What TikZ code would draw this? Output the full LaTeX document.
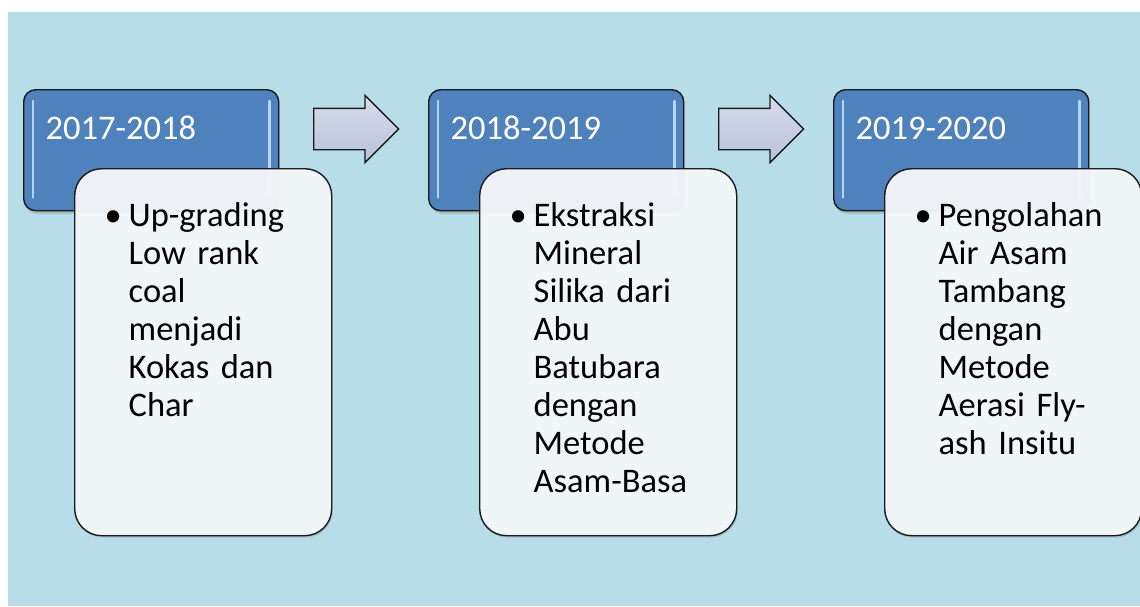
\documentclass[tikz,border=0pt]{standalone}
\usepackage{fontspec}
\setmainfont{Carlito}
\usetikzlibrary{shapes.arrows,shadows}

\definecolor{bgblue}{HTML}{B7DDE8}
\definecolor{yearblue}{HTML}{4F81BD}
\definecolor{glint}{HTML}{B4D6F6}
\definecolor{cardwhite}{HTML}{F5F8FB}
\definecolor{arrowgray}{HTML}{B8C1DB}
\definecolor{edge}{HTML}{1A1A1A}

\newcommand{\pt}{\makebox[24pt][l]{\textbullet}}

\begin{document}
\begin{tikzpicture}[x=1pt,y=-1pt,
    yearbox/.style={draw=edge, line width=1.4pt, fill=yearblue, rounded corners=12pt,
        anchor=north west, inner ysep=0pt, inner xsep=22pt, text width=211pt,
        align=left, text height=50pt, text depth=71pt, text=white,
        font=\fontsize{34.5}{38}\selectfont,
        drop shadow={opacity=0.35, shadow xshift=1pt, shadow yshift=-3pt}},
    card/.style={draw=edge, line width=1.4pt, fill=cardwhite, fill opacity=0.95,
        text opacity=1, rounded corners=27pt,
        anchor=north west, inner ysep=0pt, inner xsep=30pt, text width=197pt,
        align=left, text height=58pt, text depth=309pt,
        font=\fontsize{34.5}{38}\selectfont,
        drop shadow={opacity=0.3, shadow xshift=1pt, shadow yshift=-2pt}},
    stage/.style={single arrow, draw=edge, line width=1.4pt,
        top color=arrowgray!55!white, bottom color=arrowgray,
        minimum height=85pt, inner xsep=0pt, inner ysep=20pt,
        single arrow head extend=13pt, anchor=west},
    gloss/.style={glint, line width=2.5pt, line cap=round}]

  % background
  \useasboundingbox (0,0) rectangle (1140,606);
  \fill[bgblue] (8,12) rectangle (1140,606);

  % years
  \node[yearbox] (y1) at (23,89) {2017-2018};
  \node[yearbox] (y2) at (428,89) {2018-2019};
  \node[yearbox] (y3) at (833,89) {2019-2020};

  \foreach \n in {1,2,3} {
    \draw[gloss] ([xshift=10pt,yshift=-12pt]y\n.north west) -- ([xshift=10pt,yshift=14pt]y\n.south west);
    \draw[gloss] ([xshift=-10pt,yshift=-12pt]y\n.north east) -- ([xshift=-10pt,yshift=14pt]y\n.south east);
  }

  % arrows
  \node[stage] (a1) at (313,129) {};
  \node[stage] (a2) at (718,129) {};

  % cards
  \node[card] (c1) at (74,168) {%
    \begin{tabular}[t]{@{}l@{}l@{}}
      \pt & Up-grading\\
          & Low rank\\
          & coal\\
          & menjadi\\
          & Kokas dan\\
          & Char
    \end{tabular}};
  \node[card] (c2) at (479,168) {%
    \begin{tabular}[t]{@{}l@{}l@{}}
      \pt & Ekstraksi\\
          & Mineral\\
          & Silika dari\\
          & Abu\\
          & Batubara\\
          & dengan\\
          & Metode\\
          & Asam-Basa
    \end{tabular}};
  \node[card] (c3) at (884,168) {%
    \begin{tabular}[t]{@{}l@{}l@{}}
      \pt & Pengolahan\\
          & Air Asam\\
          & Tambang\\
          & dengan\\
          & Metode\\
          & Aerasi Fly-\\
          & ash Insitu
    \end{tabular}};
\end{tikzpicture}
\end{document}
